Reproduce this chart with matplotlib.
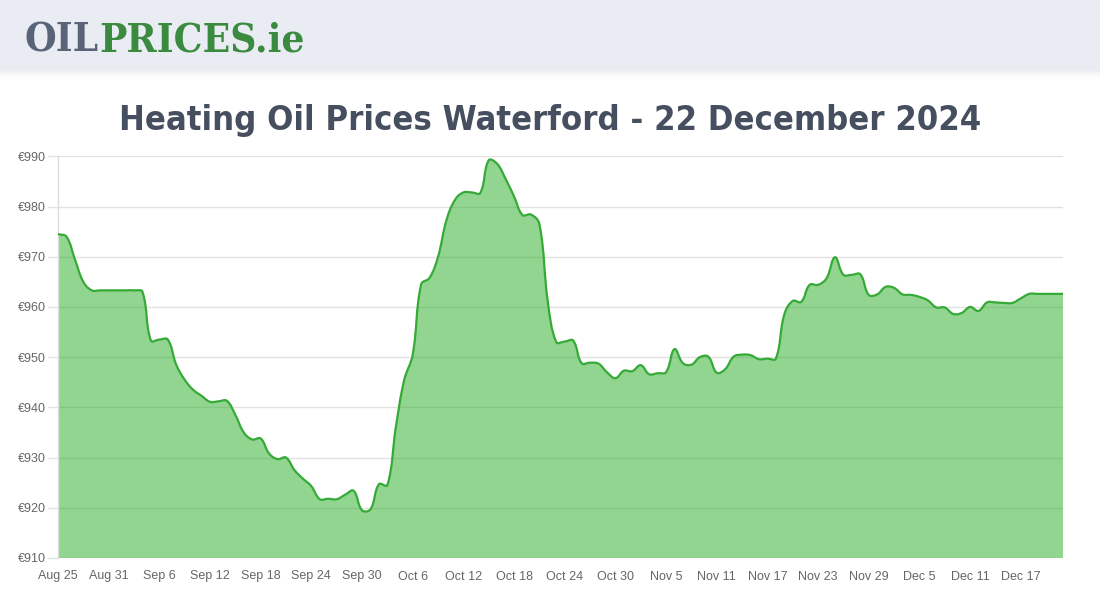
import numpy as np
import pandas as pd
import matplotlib
matplotlib.use('Agg')
import matplotlib.pyplot as plt
from matplotlib.path import Path
from matplotlib.patches import PathPatch, Rectangle
from matplotlib import font_manager as fm

# ---------------- data ----------------
start_date = '2024-08-25'
prices = [
    974.5, 974.0, 969.5, 965.0, 963.3, 963.3, 963.3, 963.3, 963.3, 963.3,
    963.0, 953.3, 953.5, 953.5, 948.5, 945.5, 943.5, 942.3, 941.1, 941.2,
    941.3, 938.5, 935.0, 933.6, 933.8, 930.8, 929.7, 930.0, 927.5, 925.8,
    924.3, 921.7, 921.8, 921.7, 922.6, 923.4, 919.5, 919.7, 924.7, 924.5,
    936.0, 945.5, 950.5, 964.5, 965.8, 970.0, 977.3, 981.3, 982.8, 982.8,
    982.7, 989.2, 988.5, 985.5, 982.0, 978.3, 978.4, 976.5, 961.0, 953.0,
    953.1, 953.3, 948.8, 948.9, 948.7, 947.0, 945.8, 947.3, 947.2, 948.4,
    946.6, 946.8, 947.0, 951.6, 948.8, 948.5, 950.0, 950.1, 946.9, 947.6,
    950.1, 950.5, 950.4, 949.6, 949.7, 949.7, 958.5, 961.2, 961.0, 964.4,
    964.4, 965.7, 969.9, 966.4, 966.4, 966.5, 962.4, 962.5, 964.0, 963.8,
    962.5, 962.4, 962.0, 961.3, 959.9, 959.9, 958.6, 958.8, 960.0, 959.2,
    960.9, 960.9, 960.8, 960.8, 961.7, 962.6, 962.6, 962.6, 962.6, 962.6,
]
y_ticks = [910, 920, 930, 940, 950, 960, 970, 980, 990]
label_step = 6
title_text = "Heating Oil Prices Waterford - 22 December 2024"
logo_parts = ["OIL", "PRICES.ie"]

# ---------------- fonts ----------------
names = {f.name for f in fm.fontManager.ttflist}
tick_family = 'Liberation Sans' if 'Liberation Sans' in names else 'DejaVu Sans'
CONDENSED = {'condensed', 'semi-condensed', 'extra-condensed', 'ultra-condensed'}


def _stretch_ok(f):
    s = f.stretch
    if isinstance(s, (int, float)):
        return s < 500
    return s in CONDENSED or 'Condensed' in f.fname or 'Narrow' in f.name


def _weight(f):
    w = f.weight
    if isinstance(w, str):
        return fm.weight_dict.get(w, 400)
    return w


def pick_font(pref_names, serif=False, fallback='DejaVu Sans'):
    cands = [f for f in fm.fontManager.ttflist if _stretch_ok(f) and _weight(f) >= 600
             and f.style == 'normal']
    for nm in pref_names:
        for f in cands:
            if f.name == nm:
                return fm.FontProperties(fname=f.fname)
    return fm.FontProperties(family=fallback, weight='bold')


title_fp = pick_font(['Liberation Sans Narrow', 'Noto Sans', 'DejaVu Sans', 'Open Sans',
                      'Roboto', 'Inter', 'Lato'])
logo_fp = pick_font(['DejaVu Serif', 'Noto Serif', 'Liberation Serif'], fallback='DejaVu Serif')
if logo_fp.get_family() == ['DejaVu Serif'] or not logo_fp.get_file():
    logo_fp = fm.FontProperties(family='DejaVu Serif', weight='bold')

W, H = 1100, 600
fig = plt.figure(figsize=(W / 100, H / 100), dpi=100)
fig.patch.set_facecolor('white')

# header band + shadow
fig.patches.append(Rectangle((0, 1 - 70 / H), 1, 70 / H, transform=fig.transFigure,
                             facecolor='#e9ecf3', edgecolor='none', zorder=0))
for i in range(10):
    fig.patches.append(Rectangle((0, 1 - (71 + i) / H), 1, 1 / H, transform=fig.transFigure,
                                 facecolor='#c8ccd6', alpha=0.35 * (1 - i / 10) ** 2,
                                 edgecolor='none', zorder=0))

# ---------------- axes ----------------
left_px, right_px, top_px, bot_px = 58, 1063, 156.3, 558
ax = fig.add_axes([left_px / W, 1 - bot_px / H, (right_px - left_px) / W, (bot_px - top_px) / H])
n = len(prices)
x = np.arange(n)
y = np.array(prices, dtype=float)
ax.set_xlim(0, n - 1)
ax.set_ylim(y_ticks[0], y_ticks[-1])

# Chart.js-like bezier spline computed in pixel space
sx = (right_px - left_px) / (n - 1)
sy = (bot_px - top_px) / (y_ticks[-1] - y_ticks[0])
px, py = x * sx, y * sy
tension = 0.4
cp_prev = np.zeros((n, 2))
cp_next = np.zeros((n, 2))
for i in range(n):
    p0 = (px[i - 1], py[i - 1]) if i > 0 else (px[i], py[i])
    p2 = (px[i + 1], py[i + 1]) if i < n - 1 else (px[i], py[i])
    d01 = np.hypot(px[i] - p0[0], py[i] - p0[1])
    d12 = np.hypot(p2[0] - px[i], p2[1] - py[i])
    tot = d01 + d12
    s01 = d01 / tot if tot > 0 else 0
    s12 = d12 / tot if tot > 0 else 0
    fa, fb = tension * s01, tension * s12
    cp_prev[i] = (px[i] - fa * (p2[0] - p0[0]), py[i] - fa * (p2[1] - p0[1]))
    cp_next[i] = (px[i] + fb * (p2[0] - p0[0]), py[i] + fb * (p2[1] - p0[1]))

verts = [(px[0], py[0])]
codes = [Path.MOVETO]
for i in range(n - 1):
    verts += [tuple(cp_next[i]), tuple(cp_prev[i + 1]), (px[i + 1], py[i + 1])]
    codes += [Path.CURVE4] * 3
verts = np.array(verts)
verts[:, 0] /= sx
verts[:, 1] /= sy
verts[:, 1] = np.clip(verts[:, 1], y_ticks[0], y_ticks[-1])

line_path = Path(verts, codes)
fill_verts = np.vstack([verts, [[x[-1], y_ticks[0]], [x[0], y_ticks[0]], [x[0], y[0]]]])
fill_codes = codes + [Path.LINETO, Path.LINETO, Path.CLOSEPOLY]
fill_path = Path(fill_verts, fill_codes)

ax.add_patch(PathPatch(fill_path, facecolor=(37 / 255, 173 / 255, 37 / 255, 0.5),
                       edgecolor='none', zorder=2))
ax.add_patch(PathPatch(line_path, facecolor='none', edgecolor='#36aa36', lw=1.6,
                       zorder=3, joinstyle='round', capstyle='round'))

# grid / spines / ticks
ax.set_yticks(y_ticks)
ax.set_yticklabels([f'€{v}' for v in y_ticks])
ax.yaxis.grid(True, color='#e2e2e2', lw=1.0, zorder=0)
ax.set_axisbelow(True)
for s in ['top', 'right', 'bottom']:
    ax.spines[s].set_visible(False)
ax.spines['left'].set_color('#dddddd')
ax.spines['left'].set_linewidth(1.0)
ax.tick_params(axis='y', length=7, color='#e2e2e2', width=1, pad=1.5,
               labelsize=9, labelcolor='#666666')

dates = pd.date_range(start_date, periods=n, freq='D')
tick_pos = x[::label_step]
ax.set_xticks(tick_pos)
ax.set_xticklabels([f"{d.strftime('%b')} {d.day}" for d in dates[::label_step]])
ax.tick_params(axis='x', length=0, pad=9, labelsize=9, labelcolor='#666666')
for lab in ax.get_xticklabels() + ax.get_yticklabels():
    lab.set_fontfamily(tick_family)

# ---------------- title ----------------
title = fig.text(0.5, 1 - 130 / H, title_text, ha='center', va='baseline',
                 fontproperties=title_fp, color='#464f5f')
title.set_fontsize(34)
fig.canvas.draw()
r = fig.canvas.get_renderer()
w = title.get_window_extent(r).width
fs = 34 * 863 / w
# keep cap height no larger than reference (~35 px)
fs = min(fs, 35 / 0.73 * 72 / 100)
title.set_fontsize(fs)

# ---------------- logo ----------------
logo_colors = ['#5a6478', '#3a8b3f']
t1 = fig.text(25 / W, 1 - 52 / H, logo_parts[0], ha='left', va='baseline',
              fontproperties=logo_fp, color=logo_colors[0])
t1.set_fontsize(24)
fig.canvas.draw()
bb = t1.get_window_extent(r)
t2 = fig.text(bb.x1 / W, 1 - 52 / H, logo_parts[1], ha='left', va='baseline',
              fontproperties=logo_fp, color=logo_colors[1])
t2.set_fontsize(24)
fig.canvas.draw()
tot_w = t2.get_window_extent(r).x1 - 25
scale = min(279 / tot_w, (30 / 0.73 * 72 / 100) / 24)
for t in (t1, t2):
    t.set_fontsize(24 * scale)
fig.canvas.draw()
bb = t1.get_window_extent(r)
t2.set_x(bb.x1 / W)

fig.savefig('out.png', dpi=100, facecolor='white')
